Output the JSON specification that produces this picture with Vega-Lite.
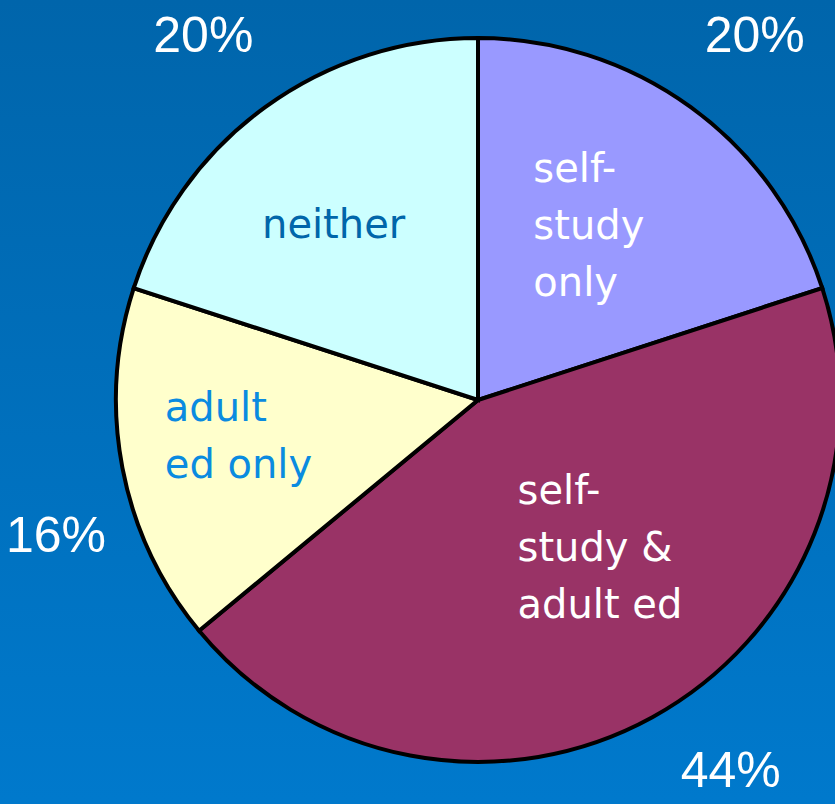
{
  "$schema": "https://vega.github.io/schema/vega-lite/v6.json",
  "width": 956,
  "height": 800,
  "autosize": {"type": "none"},
  "padding": {"left": 0, "top": 0, "right": 0, "bottom": 4},
  "background": "#0079CC",
  "view": {"stroke": null, "fill": {"gradient": "linear", "x1": 0, "y1": 0, "x2": 0, "y2": 1, "stops": [{"offset": 0, "color": "#0065AB"}, {"offset": 1, "color": "#0079CC"}]}},
  "data": {"values": [
    {"category": "self-study only", "order": 1, "percent": 20, "pct": "20%", "label": "self-|study|only"},
    {"category": "self-study & adult ed", "order": 2, "percent": 44, "pct": "44%", "label": "self-|study &|adult ed"},
    {"category": "adult ed only", "order": 3, "percent": 16, "pct": "16%", "label": "adult|ed only"},
    {"category": "neither", "order": 4, "percent": 20, "pct": "20%", "label": "neither"}
  ]},
  "config": {"text": {"lineBreak": "|"}},
  "encoding": {
    "theta": {"field": "percent", "type": "quantitative", "stack": true},
    "order": {"field": "order", "type": "quantitative"}
  },
  "layer": [
    {
      "mark": {"type": "arc", "outerRadius": 362, "stroke": "#000000", "strokeWidth": 4},
      "encoding": {
        "color": {"field": "category", "type": "nominal", "legend": null,
          "scale": {"domain": ["self-study only", "self-study & adult ed", "adult ed only", "neither"], "range": ["#9999FF", "#993366", "#FFFFCC", "#CCFFFF"]}}
      }
    },
    {
      "mark": {"type": "text", "radius": 452, "font": "Liberation Sans", "fontSize": 50, "align": "center", "baseline": "middle", "color": "#FFFFFF", "dx": 11, "dy": 3},
      "encoding": {"text": {"condition": {"test": "datum.category === 'self-study only'", "field": "pct"}, "value": ""}}
    },
    {
      "mark": {"type": "text", "radius": 452, "font": "Liberation Sans", "fontSize": 50, "align": "center", "baseline": "middle", "color": "#FFFFFF", "dx": 35, "dy": -24},
      "encoding": {"text": {"condition": {"test": "datum.category === 'self-study & adult ed'", "field": "pct"}, "value": ""}}
    },
    {
      "mark": {"type": "text", "radius": 452, "font": "Liberation Sans", "fontSize": 50, "align": "center", "baseline": "middle", "color": "#FFFFFF", "dx": 22, "dy": 52},
      "encoding": {"text": {"condition": {"test": "datum.category === 'adult ed only'", "field": "pct"}, "value": ""}}
    },
    {
      "mark": {"type": "text", "radius": 452, "font": "Liberation Sans", "fontSize": 50, "align": "center", "baseline": "middle", "color": "#FFFFFF", "dx": -9, "dy": 3},
      "encoding": {"text": {"condition": {"test": "datum.category === 'neither'", "field": "pct"}, "value": ""}}
    },
    {
      "mark": {"type": "text", "radius": 215, "font": "DejaVu Sans", "fontSize": 40, "lineHeight": 57, "align": "left", "baseline": "middle", "color": "#FFFFFF", "dx": -71, "dy": -56},
      "encoding": {"text": {"condition": {"test": "datum.category === 'self-study only'", "field": "label"}, "value": ""}}
    },
    {
      "mark": {"type": "text", "radius": 215, "font": "DejaVu Sans", "fontSize": 40, "lineHeight": 57, "align": "left", "baseline": "middle", "color": "#FFFFFF", "dx": -64, "dy": -96},
      "encoding": {"text": {"condition": {"test": "datum.category === 'self-study & adult ed'", "field": "label"}, "value": ""}}
    },
    {
      "mark": {"type": "text", "radius": 215, "font": "DejaVu Sans", "fontSize": 40, "lineHeight": 57, "align": "left", "baseline": "middle", "color": "#0A8BE0", "dx": -102, "dy": -31},
      "encoding": {"text": {"condition": {"test": "datum.category === 'adult ed only'", "field": "label"}, "value": ""}}
    },
    {
      "mark": {"type": "text", "radius": 215, "font": "DejaVu Sans", "fontSize": 40, "lineHeight": 57, "align": "center", "baseline": "middle", "color": "#0066AA", "dx": -18, "dy": 0},
      "encoding": {"text": {"condition": {"test": "datum.category === 'neither'", "field": "label"}, "value": ""}}
    }
  ]
}
